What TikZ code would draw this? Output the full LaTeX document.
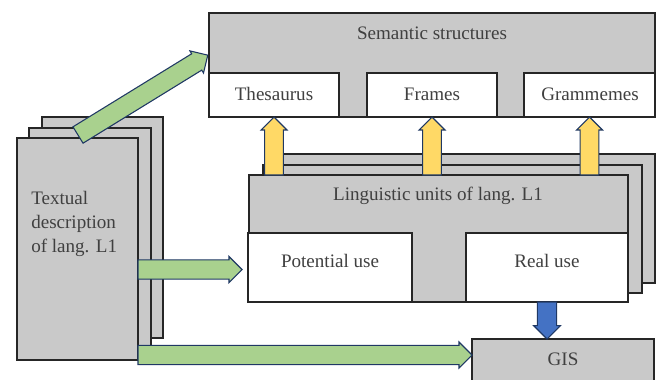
\documentclass[tikz,border=0pt]{standalone}
\usepackage{fontspec}
\setmainfont{Liberation Serif}
\usetikzlibrary{calc,fit,shapes.arrows}
\definecolor{boxgray}{RGB}{201,201,201}
\definecolor{boxline}{RGB}{38,38,38}
\definecolor{txtgray}{RGB}{64,64,64}
\definecolor{arrowgreen}{RGB}{169,209,142}
\definecolor{arrowyellow}{RGB}{255,217,102}
\definecolor{arrowblue}{RGB}{68,114,196}
\definecolor{arrowedge}{RGB}{31,56,100}
\tikzset{
    gbox/.style={
    rectangle,draw=boxline,fill=boxgray,line width=0.9pt,inner sep=0pt,outer sep=0pt
    },
    wbox/.style={
    rectangle,draw=boxline,fill=white,line width=0.9pt,inner sep=0pt,outer sep=0pt
    },
    arrowbase/.style={
    single arrow,single arrow tip angle=90,single arrow head extend=2pt,
    inner xsep=0pt,outer sep=0pt,line width=0.8pt,draw=arrowedge
    },
    garrow/.style={
    arrowbase,fill=arrowgreen,minimum width=19.5pt,inner ysep=5.25pt
    },
    yarrow/.style={
    arrowbase,fill=arrowyellow,minimum width=19.5pt,inner ysep=4.9pt
    },
    barrow/.style={
    arrowbase,fill=arrowblue,minimum width=20pt,inner ysep=4.9pt
    },
}
% block arrow from #2 to #3 with style #1
\newcommand{\blockarrow}[3]{%
  \path let \p1=($(#3)-(#2)$), \n1={atan2(\y1,\x1)}, \n2={veclen(\x1,\y1)} in
    node[#1,minimum height=\n2,rotate=\n1,anchor=tail] at (#2) {};
}
\begin{document}
\begin{tikzpicture}[x=0.75pt, y=-0.75pt, font=\fontsize{14.3}{18}\selectfont, text=txtgray]
   \clip (0,0) rectangle (660,379);

   %semantic structures
   \node[gbox, fit={(209,13) (655,117)}] (sem) {};
   \node[wbox, fit={(209,73) (339,117)}] (thes) {};
   \node[wbox, fit={(367,73) (497,117)}] (frames) {};
   \node[wbox, fit={(524,73) (655,117)}] (gramm) {};
   \node (semlbl) at (432,33) {Semantic structures};
   \node (theslbl) at (274,94) {Thesaurus};
   \node (frameslbl) at (432,94) {Frames};
   \node (grammlbl) at (590,94) {Grammemes};

   %textual description, three sheets
   \node[gbox, fit={(42,117) (163,338)}] (txt3) {};
   \node[gbox, fit={(29,128) (151,348)}] (txt2) {};
   \node[gbox, fit={(17,138) (138,360)}] (txt1) {};
   \node[align=left, anchor=west, inner sep=0pt] (txtlbl) at (31,224) {Textual\\description\\of lang. L1};

   %linguistic units, three sheets
   \node[gbox, fit={(277,154) (655,283)}] (ling3) {};
   \node[gbox, fit={(263,165) (642,293)}] (ling2) {};
   \node[gbox, fit={(249,175) (628,302)}] (ling) {};
   \node[wbox, fit={(248,233) (412,302)}] (pot) {};
   \node[wbox, fit={(466,233) (628,302)}] (real) {};
   \node (linglbl) at (438,196) {Linguistic units of lang. L1};
   \node (potlbl) at (330,261) {Potential use};
   \node (reallbl) at (547,261) {Real use};

   %GIS
   \node[gbox, fit={(472,339) (654,395)}] (gis) {};
   \node (gislbl) at (563,359) {GIS};

   %arrows
   \coordinate (dtail) at ($(txt1.north west)+(61,-3)$);
   \coordinate (dtip) at ($(sem.west)+(-1,-10)$);
   \coordinate (ptip) at ($(pot.west)+(-6,2)$);
   \coordinate (gtip) at ($(gis.north west)+(0,16)$);
   \blockarrow{garrow}{dtail}{dtip}
   \blockarrow{garrow}{txt1.east |- ptip}{ptip}
   \blockarrow{garrow}{txt1.east |- gtip}{gtip}
   \foreach \b in {thes,frames,gramm}{
     \blockarrow{yarrow}{\b.south |- ling.north}{\b.south}
   }
   \blockarrow{barrow}{real.south}{real.south |- gis.north}
  \end{tikzpicture}
\end{document}
